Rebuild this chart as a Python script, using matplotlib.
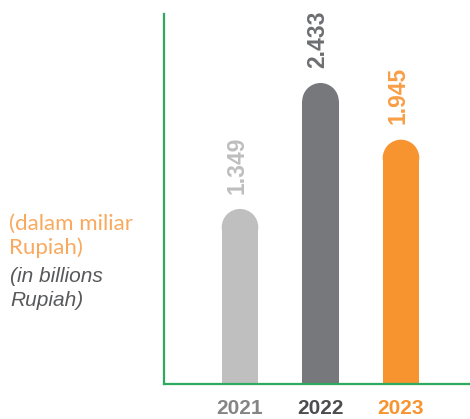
import matplotlib
matplotlib.use("Agg")
import matplotlib.pyplot as plt
from matplotlib.patches import Ellipse

# data
years = ["2021", "2022", "2023"]
values = [1.349, 2.433, 1.945]
bar_colors = ["#C0BFC0", "#77787B", "#F7942F"]
value_colors = ["#BEBEBE", "#6D6E71", "#F89E45"]
year_colors = ["#858585", "#4D4D4F", "#F7942F"]

W, H = 470, 419
fig = plt.figure(figsize=(W / 100, H / 100), dpi=100)
# axes placed in pixel terms: left 164, bottom 384 (from top), top 14, right 470
ax = fig.add_axes([164 / W, 35 / H, 306 / W, 370 / H])

px_per_x = 80.5
px_per_y = 116.2
ax.set_xlim((164 - 240) / px_per_x, (470 - 240) / px_per_x)
ax.set_ylim(0, 370 / px_per_y)

bw = 36.6 / px_per_x
r = 18.3 / px_per_y  # cap radius in y data units
xs = list(range(len(years)))

ax.bar(xs, values, width=bw, color=bar_colors, zorder=2)
for x, v, c in zip(xs, values, bar_colors):
    ax.add_patch(Ellipse((x, v), bw, 2 * r, color=c, zorder=2, lw=0))

for x, v, c in zip(xs, values, value_colors):
    ax.annotate(f"{v:.3f}", (x - 0.04, v + r), xytext=(0, 11), textcoords="offset points",
                rotation=90, ha="center", va="bottom", fontsize=16.5, fontweight="bold",
                color=c, family="Liberation Sans")

for x, yr, c in zip(xs, years, year_colors):
    ax.text(x, -0.21, yr, ha="center", va="center", fontsize=15, fontweight="bold",
            color=c, family="Liberation Sans")

green = "#2DAA5E"
for s in ["top", "right"]:
    ax.spines[s].set_visible(False)
for s in ["left", "bottom"]:
    ax.spines[s].set_color(green)
    ax.spines[s].set_linewidth(1.6)
ax.set_xticks([])
ax.set_yticks([])

# unit note on the left
fig.text(9 / W, 1 - 230 / H, "(dalam miliar", fontsize=16, color="#F9A95E", family="Lato")
fig.text(9 / W, 1 - 254 / H, "Rupiah)", fontsize=16, color="#F9A95E", family="Lato")
fig.text(10 / W, 1 - 282 / H, "(in billions", fontsize=15, color="#58595B",
         style="italic", family="Liberation Sans")
fig.text(10 / W, 1 - 306 / H, "Rupiah)", fontsize=15, color="#58595B",
         style="italic", family="Liberation Sans")

fig.savefig("out.png", dpi=100)
